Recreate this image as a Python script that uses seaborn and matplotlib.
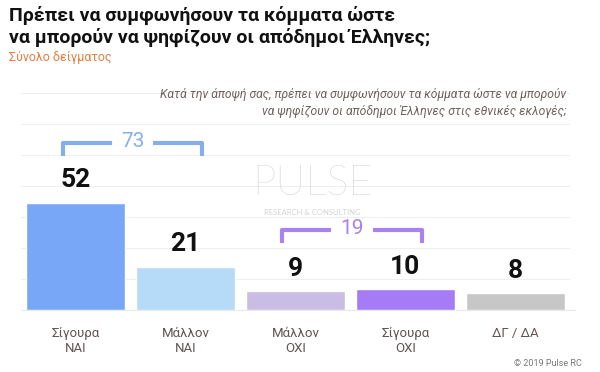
import matplotlib
matplotlib.use("Agg")
import matplotlib.pyplot as plt
import seaborn as sns
import pandas as pd

categories = ["Σίγουρα\nΝΑΙ", "Μάλλον\nΝΑΙ", "Μάλλον\nΟΧΙ", "Σίγουρα\nΟΧΙ", "ΔΓ / ΔΑ"]
values = [52, 21, 9, 10, 8]
bar_colors = ["#78a7f7", "#b5dbf8", "#c9bde6", "#a57cf5", "#c7c7c7"]

# grouped totals shown with brackets
group_yes = 73
group_no = 19

sns.set_theme(style="white")
plt.rcParams["font.family"] = ["Roboto", "DejaVu Sans"]

df = pd.DataFrame({"cat": categories, "val": values})

fig = plt.figure(figsize=(6, 3.72), dpi=100)
ax = fig.add_axes([21 / 600, 62 / 372, 549 / 600, 227 / 372])

for gy in range(15, 110, 15):
    ax.axhline(gy, color="#f0eeee", lw=0.8, zorder=0)
ax.axhline(0, color="#ebe8e8", lw=0.8, zorder=0, xmin=0, xmax=1.01, clip_on=False)

sns.barplot(data=df, x="cat", y="val", hue="cat", palette=bar_colors,
            width=0.9, legend=False, ax=ax, saturation=1, zorder=2)

for i, v in enumerate(values):
    ax.text(i, v + 5, str(v), ha="center", va="bottom", fontsize=19,
            fontweight="bold", color="#111111",
            family=["Liberation Sans Narrow", "Roboto", "DejaVu Sans"])


def bracket(x0, x1, y, drop, label, color):
    xm = (x0 + x1) / 2
    gap = 0.19
    ax.plot([x0, x0, xm - gap], [y - drop, y, y], color=color, lw=3, solid_capstyle="butt", zorder=3)
    ax.plot([xm + gap, x1, x1], [y, y, y - drop], color=color, lw=3, solid_capstyle="butt", zorder=3)
    ax.text(xm, y + 0.5, str(label), ha="center", va="center", fontsize=15,
            color=color, family=["Roboto", "DejaVu Sans"])


bracket(-0.12, 1.15, 81, 6.5, group_yes, "#86aeea")
bracket(1.88, 3.15, 39, 6.5, group_no, "#a982f0")

ax.set_xlim(-0.5, 4.5)
ax.set_ylim(0, 110)
ax.set_yticks([])
ax.set_xlabel("")
ax.set_ylabel("")
ax.tick_params(axis="x", length=0, pad=12, labelsize=9.5, labelcolor="#5f5452")
for s in ax.spines.values():
    s.set_visible(False)

# watermark
fig.text(0.52, 0.505, "PULSE", ha="center", va="center", fontsize=30,
         color="#c9c9c9", fontweight="light", family=["Lato", "DejaVu Sans"], zorder=0)
fig.text(0.52, 0.428, "RESEARCH & CONSULTING", ha="center", va="center", fontsize=5.5,
         color="#d4d4d4", family=["Lato", "DejaVu Sans"], zorder=0)

fig.text(9 / 600, 1 - 15 / 372, "Πρέπει να συμφωνήσουν τα κόμματα ώστε",
         ha="left", va="center", fontsize=14, fontweight="bold", color="#111111")
fig.text(9 / 600, 1 - 37 / 372, "να μπορούν να ψηφίζουν οι απόδημοι Έλληνες;",
         ha="left", va="center", fontsize=14, fontweight="bold", color="#111111")
fig.text(9 / 600, 1 - 57 / 372, "Σύνολο δείγματος", ha="left", va="center",
         fontsize=9, color="#e0803e")
fig.text(566 / 600, 1 - 103 / 372,
         "Κατά την άποψή σας, πρέπει να συμφωνήσουν τα κόμματα ώστε να μπορούν\nνα ψηφίζουν οι απόδημοι Έλληνες στις εθνικές εκλογές;",
         ha="right", va="center", fontsize=8.7, style="italic", color="#6d615d",
         linespacing=1.4)
fig.text(582 / 600, 1 - 363 / 372, "© 2019 Pulse RC", ha="right", va="center",
         fontsize=6.5, color="#777777")

fig.savefig("out.png", dpi=100)
